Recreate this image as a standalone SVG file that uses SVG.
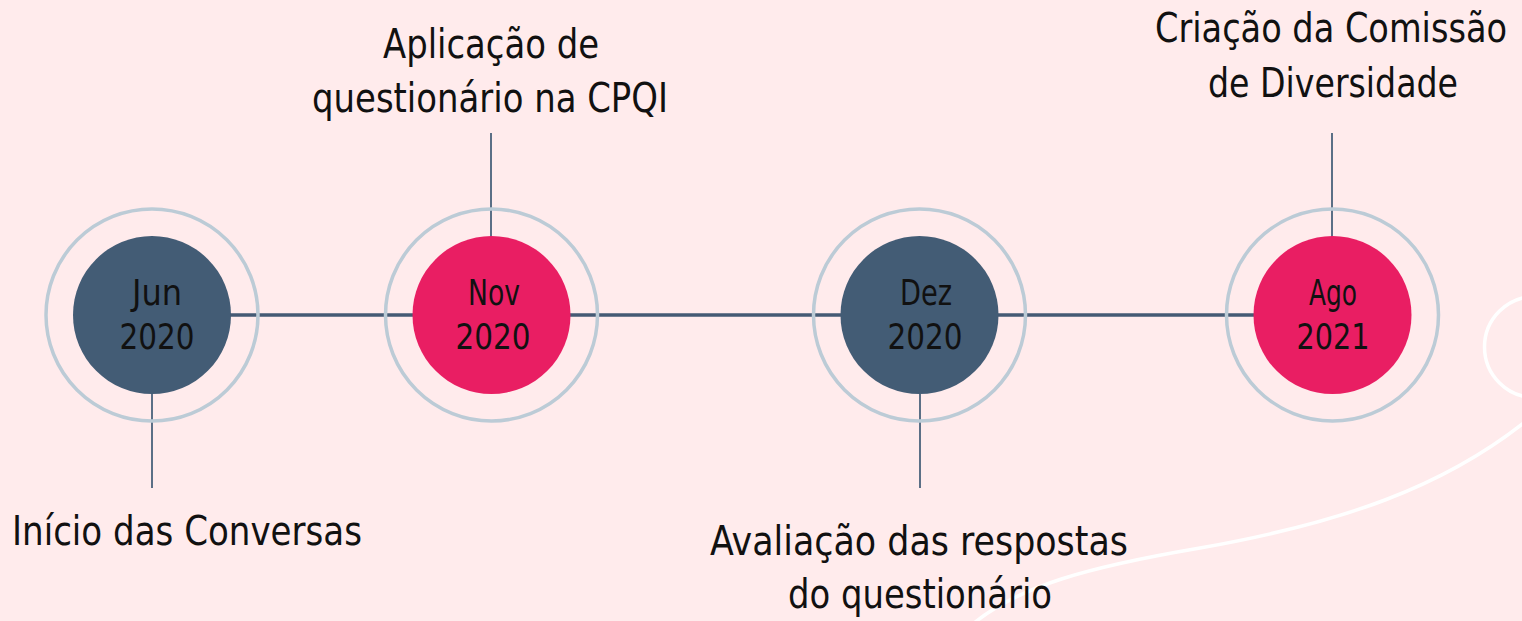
<svg xmlns="http://www.w3.org/2000/svg" width="1522" height="621" viewBox="0 0 1522 621">
<style>
.bg{fill:#ffebec}
.ring{fill:none;stroke:#bccbd6;stroke-width:3.5}
.dark{fill:#435c75}
.pink{fill:#e91e63}
.axis{stroke:#455a74;stroke-width:3.5;fill:none}
.tick{stroke:#5b6f86;stroke-width:2;fill:none}
.deco{fill:none;stroke:#ffffff;stroke-width:3.5}
text{font-family:"DejaVu Sans Condensed","Liberation Sans",sans-serif;fill:#111111;text-anchor:middle}
.date{font-size:35px}
.lbl{font-size:41px}
</style>
<rect class="bg" x="0" y="0" width="1522" height="621"/>
<g id="decoration">
<path class="deco" d="M 962 634 C 1010 585 1100 565 1200 548 C 1330 525 1450 490 1545 405"/>
<circle class="deco" cx="1535" cy="347" r="50.5"/>
</g>
<g id="connectors">
<line class="axis" x1="152" y1="315" x2="1333" y2="315"/>
<line class="tick" x1="152" y1="394" x2="152" y2="488"/>
<line class="tick" x1="491" y1="133" x2="491" y2="237"/>
<line class="tick" x1="920" y1="394" x2="920" y2="488"/>
<line class="tick" x1="1332" y1="133" x2="1332" y2="237"/>
</g>
<g id="node-jun">
<circle class="ring" cx="152" cy="315" r="106"/>
<circle class="dark" cx="152" cy="315" r="79"/>
<text class="date" x="157" y="305" textLength="50" lengthAdjust="spacingAndGlyphs">Jun</text>
<text class="date" x="157" y="349" textLength="75" lengthAdjust="spacingAndGlyphs">2020</text>
<text class="lbl" x="187" y="545" textLength="350" lengthAdjust="spacingAndGlyphs">Início das Conversas</text>
</g>
<g id="node-nov">
<circle class="ring" cx="491.5" cy="315" r="106"/>
<circle class="pink" cx="491.5" cy="315" r="79"/>
<text class="date" x="494" y="305" textLength="52" lengthAdjust="spacingAndGlyphs">Nov</text>
<text class="date" x="493" y="349" textLength="75" lengthAdjust="spacingAndGlyphs">2020</text>
<text class="lbl" x="491" y="58" textLength="216" lengthAdjust="spacingAndGlyphs">Aplicação de</text>
<text class="lbl" x="490" y="112" textLength="356" lengthAdjust="spacingAndGlyphs">questionário na CPQI</text>
</g>
<g id="node-dez">
<circle class="ring" cx="919.5" cy="315" r="106"/>
<circle class="dark" cx="919.5" cy="315" r="79"/>
<text class="date" x="926" y="305" textLength="52" lengthAdjust="spacingAndGlyphs">Dez</text>
<text class="date" x="925" y="349" textLength="75" lengthAdjust="spacingAndGlyphs">2020</text>
<text class="lbl" x="919" y="555" textLength="418" lengthAdjust="spacingAndGlyphs">Avaliação das respostas</text>
<text class="lbl" x="920" y="608" textLength="264" lengthAdjust="spacingAndGlyphs">do questionário</text>
</g>
<g id="node-ago">
<circle class="ring" cx="1332.5" cy="315" r="106"/>
<circle class="pink" cx="1332.5" cy="315" r="79"/>
<text class="date" x="1333" y="305" textLength="48" lengthAdjust="spacingAndGlyphs">Ago</text>
<text class="date" x="1333" y="349" textLength="73" lengthAdjust="spacingAndGlyphs">2021</text>
<text class="lbl" x="1331" y="42" textLength="352" lengthAdjust="spacingAndGlyphs">Criação da Comissão</text>
<text class="lbl" x="1333" y="97" textLength="250" lengthAdjust="spacingAndGlyphs">de Diversidade</text>
</g>
</svg>
